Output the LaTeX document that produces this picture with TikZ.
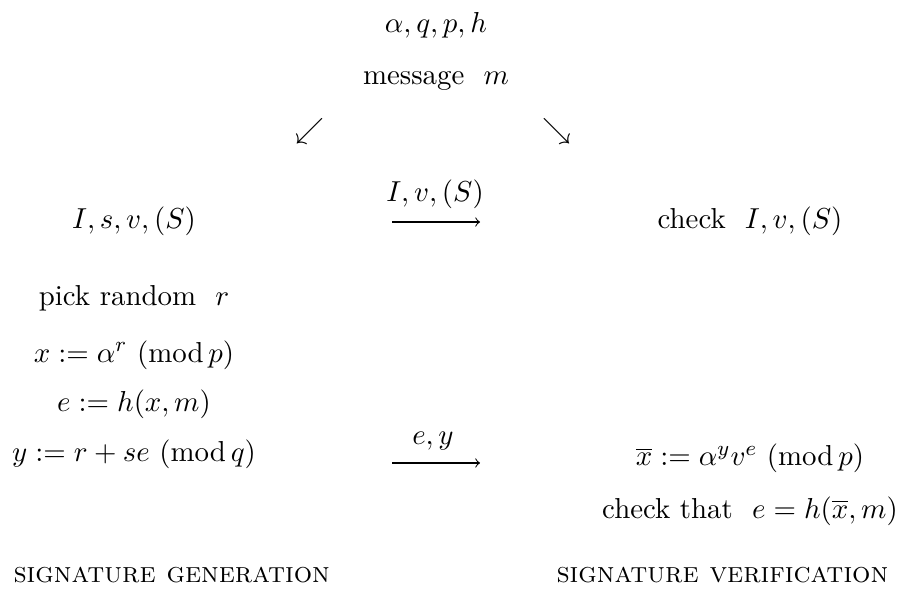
\documentclass[tikz,border=0pt,11pt]{standalone}
\usepackage{amsmath}
\usepackage{tikz}
\usetikzlibrary{positioning, calc}

\begin{document}
\begin{tikzpicture}[
  txt/.style={anchor=base, inner sep=0pt},
  part/.style={anchor=base west, inner sep=0pt, font=\scshape},
  sendarrow/.style={->, line width=0.4pt}
]
  \useasboundingbox (0, 0) rectangle (12.04, -8.013);

  % common data
  \node[txt] (params) at (5.813, -0.427) {$\alpha, q, p, h$};
  \node[txt] (msg) at (5.813, -1.12) {message\ \ $m$};
  \node[inner sep=0pt] (toleft) at (4.133, -1.747) {$\swarrow$};
  \node[inner sep=0pt] (toright) at (7.427, -1.747) {$\searrow$};

  % keys
  \node[txt] (key) at (1.787, -3.04) {$I, s, v, (S)$};
  \node[txt] (send1) at (5.8, -2.693) {$I, v, (S)$};
  \coordinate (s1a) at (5.227, -2.96);
  \coordinate (s1b) at (6.4, -2.96);
  \draw[sendarrow] (s1a) -- (s1b);
  \node[txt] (check1) at (10.0, -3.04) {check\ \ $I, v, (S)$};

  % signer
  \node[txt] (pick) at (1.787, -4.067) {pick random\ \ $r$};
  \node[txt] (xdef) at (1.787, -4.827) {$x := \alpha^r~(\mathrm{mod}\,p)$};
  \node[txt] (edef) at (1.787, -5.493) {$e := h(x, m)$};
  \node[txt] (ydef) at (1.787, -6.147) {$y := r + se~(\mathrm{mod}\,q)$};
  \node[txt] (send2) at (5.773, -5.933) {$e, y$};
  \coordinate (s2a) at (5.227, -6.173);
  \coordinate (s2b) at (6.4, -6.173);
  \draw[sendarrow] (s2a) -- (s2b);

  % verifier
  \node[txt] (xbar) at (10.0, -6.213) {$\overline{x} := \alpha^y v^e~(\mathrm{mod}\,p)$};
  \node[txt] (check2) at (10.0, -6.907) {check that\ \ $e = h(\overline{x}, m)$};

  \node[part] (gen) at (0.173, -7.773) {signature generation};
  \node[part] (ver) at (7.413, -7.773) {signature verification};
\end{tikzpicture}
\end{document}
